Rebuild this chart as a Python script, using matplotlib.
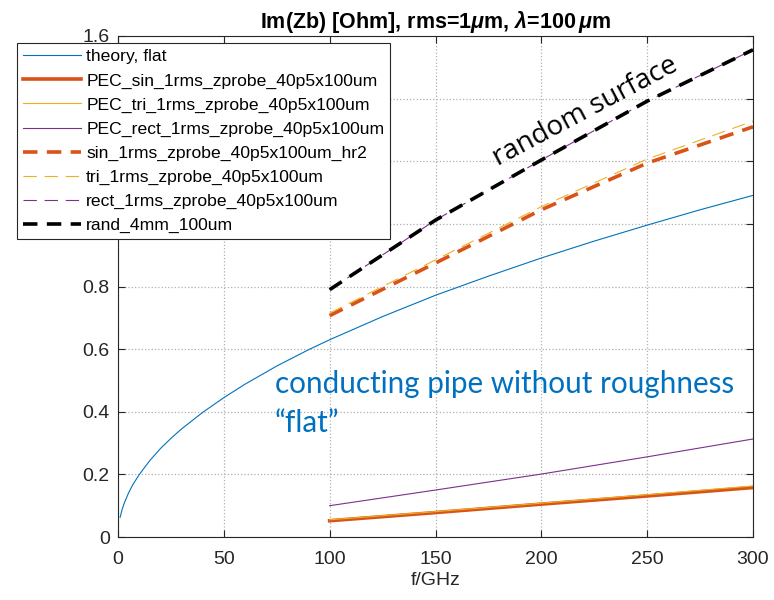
import numpy as np
import matplotlib
matplotlib.use('Agg')
from matplotlib import pyplot as plt

# values
f_theory = [1, 2, 3, 5, 7, 10, 15, 20, 25, 30, 40, 50, 60, 75, 90, 100, 125, 150,
            175, 200, 225, 250, 275, 300]
theory_flat = [0.063, 0.089, 0.109, 0.141, 0.167, 0.199, 0.244, 0.282, 0.315, 0.345,
               0.398, 0.445, 0.488, 0.546, 0.598, 0.630, 0.704, 0.772, 0.833, 0.891,
               0.945, 0.996, 1.045, 1.091]

f_sim = [100, 150, 200, 250, 300]
pec_sin = [0.052, 0.078, 0.105, 0.131, 0.158]
pec_tri = [0.055, 0.081, 0.108, 0.135, 0.163]
pec_rect = [0.100, 0.150, 0.201, 0.256, 0.313]
sin_hr2 = [0.707, 0.875, 1.045, 1.194, 1.310]
tri = [0.715, 0.885, 1.055, 1.207, 1.328]
rect = [0.790, 1.012, 1.204, 1.392, 1.556]
rand = [0.790, 1.012, 1.204, 1.392, 1.556]

labels = ['theory, flat', 'PEC_sin_1rms_zprobe_40p5x100um', 'PEC_tri_1rms_zprobe_40p5x100um',
          'PEC_rect_1rms_zprobe_40p5x100um', 'sin_1rms_zprobe_40p5x100um_hr2',
          'tri_1rms_zprobe_40p5x100um', 'rect_1rms_zprobe_40p5x100um', 'rand_4mm_100um']

blue, orange, yellow, purple = '#0072BD', '#D95319', '#EDB120', '#7E2F8E'

plt.rcParams['font.family'] = ['Liberation Sans', 'DejaVu Sans']
plt.rcParams['mathtext.fontset'] = 'custom'
plt.rcParams['mathtext.it'] = 'Liberation Sans:italic:bold'
plt.rcParams['mathtext.rm'] = 'Liberation Sans:bold'

fig = plt.figure(figsize=(7.74, 6), dpi=100)
ax = fig.add_axes([118/774, 63/600, 635/774, 501/600])

ax.plot(f_theory, theory_flat, color=blue, lw=0.8, label=labels[0])
ax.plot(f_sim, pec_sin, color=orange, lw=2.6, label=labels[1])
ax.plot(f_sim, pec_tri, color=yellow, lw=0.8, label=labels[2])
ax.plot(f_sim, pec_rect, color=purple, lw=0.8, label=labels[3])
ax.plot(f_sim, sin_hr2, color=orange, lw=2.6, dashes=(4, 2.6), label=labels[4])
ax.plot(f_sim, tri, color=yellow, lw=0.8, dashes=(12, 7), label=labels[5])
ax.plot(f_sim, rect, color=purple, lw=0.8, dashes=(12, 7), label=labels[6])
ax.plot(f_sim, rand, color='black', lw=2.6, dashes=(4, 2.6), label=labels[7])

ax.set_xlim(0, 300)
ax.set_ylim(0, 1.6)
ax.set_xticks([0, 50, 100, 150, 200, 250, 300])
ax.set_yticks([0, 0.2, 0.4, 0.6, 0.8, 1.0, 1.2, 1.4, 1.6])
ax.set_yticklabels(['0', '0.2', '0.4', '0.6', '0.8', '1', '1.2', '1.4', '1.6'])
ax.tick_params(direction='in', top=True, right=True, labelsize=14, colors='#262626',
               length=5, width=0.8)
ax.tick_params(axis='x', pad=10)
ax.tick_params(axis='y', pad=6)
ax.grid(True, linestyle=':', color='#b0b0b0', lw=0.9)
for s in ax.spines.values():
    s.set_color('#262626')
    s.set_linewidth(0.8)

ax.set_xlabel('f/GHz', fontsize=14, color='#262626', labelpad=3)
ax.set_title(r'Im(Zb) [Ohm], rms=1$\mu$m, $\lambda$=100$\,\mu$m', fontsize=15.5,
             fontweight='bold', pad=6)

ax.text(221, 1.36, 'random surface', rotation=28, fontsize=20, family='Open Sans',
        ha='center', va='center')
ax.text(74, 0.46, 'conducting pipe without roughness', fontsize=21.3, family='Lato',
        color='#0070C0', ha='left', va='baseline')
ax.text(74, 0.335, '\u201cflat\u201d', fontsize=21.3, family='Lato',
        color='#0070C0', ha='left', va='baseline')

leg = ax.legend(loc='upper left', bbox_to_anchor=(17/774, 1 - 43/600),
                bbox_transform=fig.transFigure, borderaxespad=0, fontsize=12.6,
                handlelength=3.3, handletextpad=0.3, labelspacing=0.5,
                fancybox=False, framealpha=1, edgecolor='#262626', borderpad=0.35)
leg.get_frame().set_linewidth(0.8)

fig.savefig('out.png', dpi=100)
